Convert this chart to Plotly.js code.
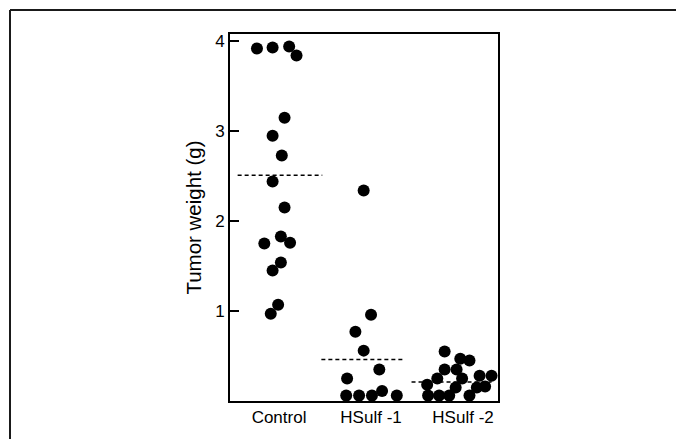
<!DOCTYPE html>
<html>
<head>
<meta charset="utf-8">
<script src="https://cdn.plot.ly/plotly-3.0.1.min.js"></script>
<style>
  html, body { margin: 0; padding: 0; background: #ffffff; }
  #chart { width: 676px; height: 439px; }
</style>
</head>
<body>
<div id="chart"></div>
<script>
// ---- data ----
const groups = ["Control", "HSulf -1", "HSulf -2"];

const controlValues = [3.92, 3.93, 3.94, 3.84, 3.15, 2.95, 2.73, 2.44, 2.15, 1.83, 1.75, 1.76, 1.54, 1.45, 1.07, 0.97];
const controlJitter = [-0.24, -0.07, 0.11, 0.19, 0.06, -0.07, 0.03, -0.07, 0.06, 0.02, -0.16, 0.12, 0.02, -0.07, -0.01, -0.09];

const hsulf1Values = [2.34, 0.96, 0.77, 0.56, 0.35, 0.25, 0.11, 0.06, 0.06, 0.06, 0.06];
const hsulf1Jitter = [-0.08, 0.00, -0.17, -0.08, 0.09, -0.26, 0.12, -0.27, -0.13, 0.01, 0.28];

const hsulf2Values = [0.55, 0.47, 0.45, 0.35, 0.35, 0.25, 0.25, 0.28, 0.28, 0.18, 0.15, 0.15, 0.16, 0.06, 0.06, 0.06, 0.06];
const hsulf2Jitter = [-0.20, -0.03, 0.07, -0.20, -0.07, -0.28, -0.01, 0.18, 0.31, -0.39, -0.08, 0.15, 0.24, -0.38, -0.26, -0.15, 0.07];

const meanValues = [2.51, 0.46, 0.21];
const meanSpanLeft = [-0.45, -0.54, -0.56];
const meanSpanRight = [0.47, 0.35, 0.31];

const yTicks = [1, 2, 3, 4];

// ---- build traces ----
const W = 676, H = 439;
const M = { l: 230, r: 178, t: 34, b: 38 };

const valueSets = [controlValues, hsulf1Values, hsulf2Values];
const jitterSets = [controlJitter, hsulf1Jitter, hsulf2Jitter];

const traces = [];
valueSets.forEach((vals, g) => {
  traces.push({
    type: "scatter",
    mode: "markers",
    x: vals.map((v, i) => g + jitterSets[g][i]),
    y: vals,
    marker: { color: "#000000", size: 12, line: { width: 0 } },
    cliponaxis: true,
    hoverinfo: "y",
    showlegend: false
  });
});

meanValues.forEach((m, g) => {
  traces.push({
    type: "scatter",
    mode: "lines",
    x: [g + meanSpanLeft[g], g + meanSpanRight[g]],
    y: [m, m],
    line: { color: "#000000", width: 1.5, dash: "4px,3px" },
    hoverinfo: "skip",
    showlegend: false
  });
});

// outer frame (top and left edges visible in the reference)
const pw = W - M.l - M.r, ph = H - M.t - M.b;
const px2x = px => (px - M.l) / pw;
const px2y = py => 1 - (py - M.t) / ph;

const layout = {
  width: W,
  height: H,
  margin: M,
  paper_bgcolor: "#ffffff",
  plot_bgcolor: "#ffffff",
  font: { family: "Liberation Sans, Arial, sans-serif", color: "#000000", size: 17 },
  showlegend: false,
  xaxis: {
    range: [-0.533, 2.38],
    tickmode: "array",
    tickvals: [0, 1, 2],
    ticktext: groups,
    ticks: "",
    showgrid: false,
    zeroline: false,
    showline: true,
    linecolor: "#000000",
    linewidth: 2,
    mirror: true,
    tickfont: { size: 17, color: "#000000" }
  },
  yaxis: {
    range: [0, 4.08],
    tickmode: "array",
    tickvals: yTicks,
    ticktext: yTicks.map(String),
    ticks: "inside",
    ticklen: 9,
    tickwidth: 2,
    tickcolor: "#000000",
    showgrid: false,
    zeroline: false,
    showline: true,
    linecolor: "#000000",
    linewidth: 2,
    mirror: true,
    tickfont: { size: 17, color: "#000000" },
    title: { text: "Tumor weight (g)", font: { size: 20.5, color: "#000000" }, standoff: 8 }
  },
  shapes: [
    { type: "line", xref: "paper", yref: "paper",
      x0: px2x(10), x1: px2x(680), y0: px2y(10), y1: px2y(10),
      line: { color: "#1a1a1a", width: 2 } },
    { type: "line", xref: "paper", yref: "paper",
      x0: px2x(10), x1: px2x(10), y0: px2y(10), y1: px2y(445),
      line: { color: "#1a1a1a", width: 2 } }
  ]
};

Plotly.newPlot("chart", traces, layout, { displayModeBar: false, staticPlot: true });
</script>
</body>
</html>
